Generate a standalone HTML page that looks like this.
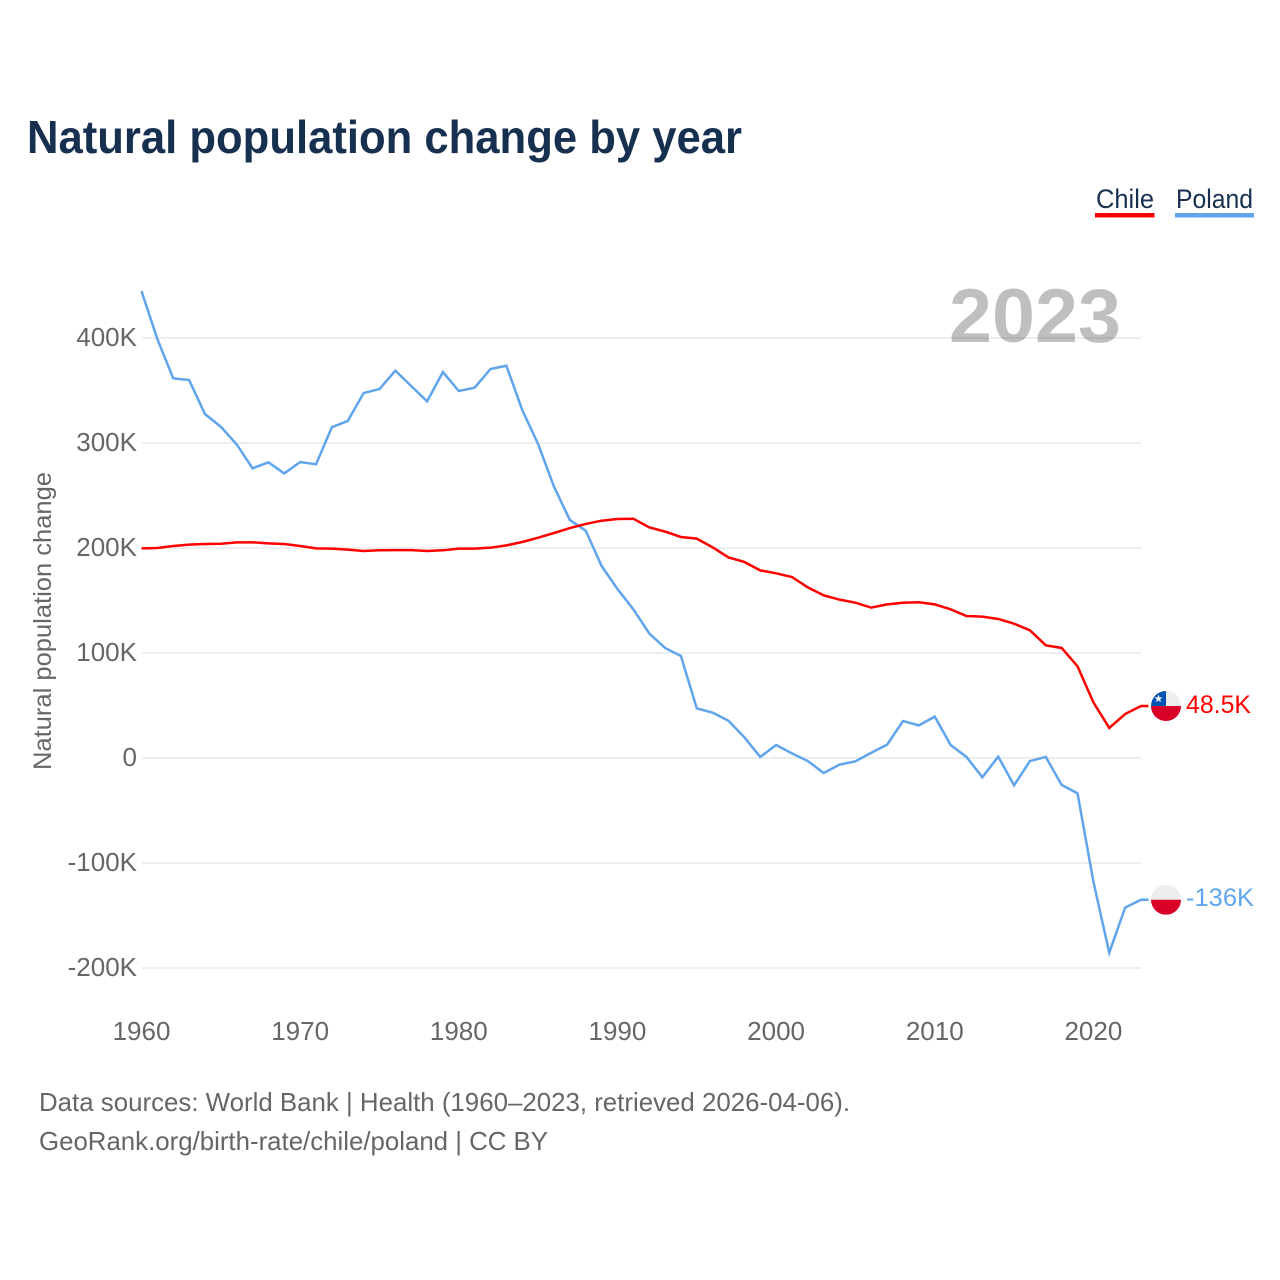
<!DOCTYPE html>
<html lang="en">
<head>
<meta charset="utf-8">
<title>Natural population change by year</title>
<style>
html,body{margin:0;padding:0;background:#fff;}
svg{display:block;font-family:"Liberation Sans",sans-serif;}
</style>
</head>
<body>
<svg id="chart" xmlns="http://www.w3.org/2000/svg" width="1280" height="1280" viewBox="0 0 1280 1280">
  <rect x="0" y="0" width="1280" height="1280" fill="#ffffff"/>
  <text x="27" y="153" font-size="46" font-weight="700" fill="#17304f" textLength="715" lengthAdjust="spacingAndGlyphs">Natural population change by year</text>

  <g>
    <g>
      <text x="1096" y="208" font-size="27" fill="#17304f" textLength="58" lengthAdjust="spacingAndGlyphs">Chile</text>
      <rect x="1095" y="213" width="59.5" height="4.5" fill="#ff0000"/>
    </g>
    <g>
      <text x="1176" y="208" font-size="27" fill="#17304f" textLength="77" lengthAdjust="spacingAndGlyphs">Poland</text>
      <rect x="1175" y="213" width="79" height="4.5" fill="#60a5ec"/>
    </g>
  </g>

  <g id="grid"></g>
  <text x="949" y="342" font-size="76" font-weight="700" fill="#000000" fill-opacity="0.25" textLength="172" lengthAdjust="spacingAndGlyphs">2023</text>
  <g id="y-ticks"></g>
  <g id="x-ticks"></g>
  <text transform="translate(51 621) rotate(-90)" text-anchor="middle" font-size="25" fill="#666666" textLength="298" lengthAdjust="spacingAndGlyphs">Natural population change</text>

  <g id="series"></g>

  <defs>
    <clipPath id="flag-clip"><circle cx="0" cy="0" r="15"/></clipPath>
  </defs>
  <g id="flag-chile">
    <g clip-path="url(#flag-clip)">
      <rect x="-15" y="-15" width="30" height="15" fill="#eeeeee"/>
      <rect x="-15" y="-15" width="15" height="15" fill="#0052b4"/>
      <rect x="-15" y="0" width="30" height="15" fill="#d80027"/>
      <polygon points="-7.5,-11.5 -6.4,-8.6 -3.4,-8.6 -5.8,-6.7 -5,-3.8 -7.5,-5.5 -10,-3.8 -9.2,-6.7 -11.6,-8.6 -8.6,-8.6" fill="#eeeeee"/>
    </g>
  </g>
  <g id="flag-poland">
    <g clip-path="url(#flag-clip)">
      <rect x="-15" y="-15" width="30" height="15" fill="#eeeeee"/>
      <rect x="-15" y="0" width="30" height="15" fill="#d80027"/>
    </g>
  </g>
  <text id="end-label-chile" x="1186" font-size="25" fill="#ff0000" textLength="65" lengthAdjust="spacingAndGlyphs"></text>
  <text id="end-label-poland" x="1186" font-size="25" fill="#60a5ec" textLength="68" lengthAdjust="spacingAndGlyphs"></text>

  <text x="39" y="1111" font-size="26" fill="#666666" textLength="811" lengthAdjust="spacingAndGlyphs">Data sources: World Bank | Health (1960–2023, retrieved 2026-04-06).</text>
  <text x="39" y="1150" font-size="26" fill="#666666" textLength="509" lengthAdjust="spacingAndGlyphs">GeoRank.org/birth-rate/chile/poland | CC BY</text>
</svg>
<script>
const startYear = 1960;
const chileValues = [
  199.7,200,201.9,203.2,203.8,204.1,205.4,205.4,204.4,203.8,
  201.9,199.7,199.4,198.4,197.1,197.8,198,198,197.1,197.8,
  199.4,199.4,200.3,202.5,205.7,209.8,214.3,219,222.9,226,
  227.6,227.9,219.7,215.6,210.5,208.9,200.6,191,186.7,178.7,
  175.9,172.4,162.5,154.9,150.8,147.9,143.2,146.3,147.9,148.3,
  146.3,141.6,135.2,134.6,132.4,127.9,121.6,107.3,104.8,87.3,
  53,28.6,41.9,49.5
];
const polandValues = [
  444.7,399,361.6,360,327.6,315.5,298.7,275.9,281.6,271,
  281.9,279.7,315,321,347.6,351.4,368.9,354.3,339.7,367.6,
  349.5,352.7,370.5,373.6,331.4,299,258.4,226.7,216.5,182.9,
  161,141.6,118.7,104.8,97.1,47.3,43.2,35.5,19.7,1,
  12.4,4.4,-2.9,-14.3,-6.3,-3.2,5,12.7,35.2,31.1,
  39.4,12.4,1,-18.4,1.3,-26,-2.9,1,-25.7,-33.7,
  -117.8,-185.4,-142.5,-135
];
const yTickValues = [400,300,200,100,0,-100,-200];
const yTickLabels = ["400K","300K","200K","100K","0","-100K","-200K"];
const xTickYears = [1960,1970,1980,1990,2000,2010,2020];
const chileEndLabel = "48.5K";
const polandEndLabel = "-136K";

const NS = "http://www.w3.org/2000/svg";
function xScale(year){ return 141.5 + (year - 1960) * 15.865; }
function yScale(value){ return 758 - value * 1.05; }

const gridGroup = document.getElementById("grid");
const yTickGroup = document.getElementById("y-ticks");
yTickValues.forEach(function(v,i){
  const line = document.createElementNS(NS,"line");
  
  
  line.setAttribute("x1",142);
  line.setAttribute("x2",1141);
  line.setAttribute("y1",yScale(v));
  line.setAttribute("y2",yScale(v));
  line.setAttribute("stroke","#eeeeee");
  line.setAttribute("stroke-width","2");
  gridGroup.appendChild(line);
  const t = document.createElementNS(NS,"text");
  
  
  t.setAttribute("x",137);
  t.setAttribute("y",yScale(v)+8);
  t.setAttribute("text-anchor","end");
  t.setAttribute("font-size","26");
  t.setAttribute("fill","#666666");
  t.textContent = yTickLabels[i];
  yTickGroup.appendChild(t);
});

const xTickGroup = document.getElementById("x-ticks");
xTickYears.forEach(function(y){
  const t = document.createElementNS(NS,"text");
  
  
  t.setAttribute("x",xScale(y));
  t.setAttribute("y",1040);
  t.setAttribute("text-anchor","middle");
  t.setAttribute("font-size","26");
  t.setAttribute("fill","#666666");
  t.textContent = String(y);
  xTickGroup.appendChild(t);
});

const seriesGroup = document.getElementById("series");
function linePath(values){
  let d = values.map(function(v,i){
    return (i ? "L" : "M") + xScale(startYear+i).toFixed(2) + " " + yScale(v).toFixed(2);
  }).join(" ");
  d += " H1148.5";
  return d;
}
const polandLine = document.createElementNS(NS,"path");


polandLine.setAttribute("d",linePath(polandValues));
polandLine.setAttribute("fill","none");
polandLine.setAttribute("stroke","#60a5ec");
polandLine.setAttribute("stroke-width","2.5");
polandLine.setAttribute("stroke-linejoin","miter");
seriesGroup.appendChild(polandLine);
const chileLine = document.createElementNS(NS,"path");


chileLine.setAttribute("d",linePath(chileValues));
chileLine.setAttribute("fill","none");
chileLine.setAttribute("stroke","#ff0000");
chileLine.setAttribute("stroke-width","2.5");
chileLine.setAttribute("stroke-linejoin","miter");
seriesGroup.appendChild(chileLine);

const chileEndY = yScale(chileValues[chileValues.length-1]);
const polandEndY = yScale(polandValues[polandValues.length-1]);
document.getElementById("flag-chile").setAttribute("transform","translate(1166 "+chileEndY+")");
document.getElementById("flag-poland").setAttribute("transform","translate(1166 "+polandEndY+")");
const chileLabel = document.getElementById("end-label-chile");
chileLabel.setAttribute("y",chileEndY+7);
chileLabel.textContent = chileEndLabel;
const polandLabel = document.getElementById("end-label-poland");
polandLabel.setAttribute("y",polandEndY+6);
polandLabel.textContent = polandEndLabel;
</script>
</body>
</html>
